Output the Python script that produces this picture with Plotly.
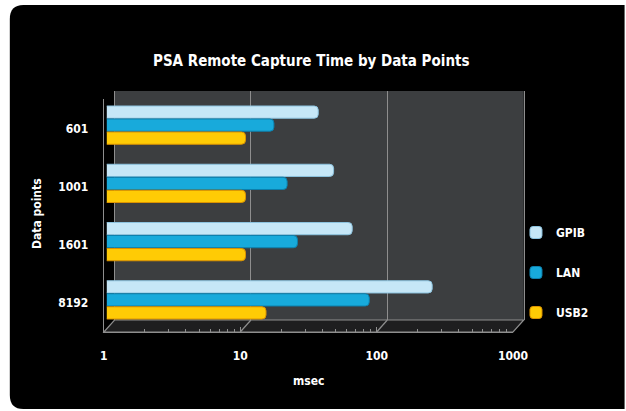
import plotly.graph_objects as go

# ---- data -------------------------------------------------------------
points = ["601", "1001", "1601", "8192"]
gpib = [35.5, 46, 63, 243]
lan = [16.8, 21, 25, 84]
usb2 = [10.4, 10.4, 10.4, 14.7]
x_ticks = [1, 10, 100, 1000]
x_tick_text = ["1", "10", "100", "1000"]
series_names = ["GPIB", "LAN", "USB2"]

# ---- layout geometry (pixels) -------------------------------------------
W, H = 626, 411
BACK_X, BACK_Y = (114, 536), (91, 320)      # back wall
BAR_X, BAR_Y = (106, 528), (96, 329)        # plane of the bars
FRONT_X, FRONT_Y = (103, 525), (99.3, 332)  # front edge with labels

FONT = "Liberation Sans Narrow, DejaVu Sans Condensed, Roboto Condensed, Arial Narrow, Liberation Sans, sans-serif"
GRID = "#8e8e8e"


def px(x):
    return x / W


def py(y):
    return 1 - y / H


def dom_x(a):
    return [px(a[0]), px(a[1])]


def dom_y(a):
    return [py(a[1]), py(a[0])]


fig = go.Figure()

# empty traces so the back-wall and front-edge axis pairs are rendered
for xa, ya in (("x", "y"), ("x3", "y3")):
    fig.add_trace(go.Scatter(x=[None], y=[None], xaxis=xa, yaxis=ya,
                             mode="markers", showlegend=False, hoverinfo="skip"))

fills = {"GPIB": ("#c6e7f7", "#8cc3df"),
         "LAN": ("#18aadb", "#0d80ad"),
         "USB2": ("#ffcb05", "#dc9300")}
for name, vals in zip(series_names, [gpib, lan, usb2]):
    fill, edge = fills[name]
    fig.add_trace(go.Bar(
        x=vals, y=points, orientation="h", name=name,
        xaxis="x2", yaxis="y2", legendgroup=name,
        marker=dict(color=fill, line=dict(color=edge, width=1), cornerradius=4),
    ))

# ---- 3D box decoration: black panel, back wall, floor ------------------
shapes = []
r = 14
x0, y0, x1, y1 = 6, 5, 640, 409
panel = (f"M {px(x0 + r)} {py(y0)} L {px(x1)} {py(y0)} L {px(x1)} {py(y1)} "
         f"L {px(x0 + r)} {py(y1)} Q {px(x0)} {py(y1)} {px(x0)} {py(y1 - r)} "
         f"L {px(x0)} {py(y0 + r)} Q {px(x0)} {py(y0)} {px(x0 + r)} {py(y0)} Z")
shapes.append(dict(type="path", path=panel, xref="paper", yref="paper",
                   fillcolor="#000000", line=dict(width=0), layer="below"))
shapes.append(dict(type="rect", xref="paper", yref="paper",
                   x0=px(BACK_X[0]), x1=px(BACK_X[1]), y0=py(BACK_Y[1]), y1=py(BACK_Y[0]),
                   fillcolor="#3c3e40", line=dict(width=0), layer="below"))
floor = (f"M {px(FRONT_X[0])} {py(FRONT_Y[1])} L {px(FRONT_X[1])} {py(FRONT_Y[1])} "
         f"L {px(BACK_X[1])} {py(BACK_Y[1])} L {px(BACK_X[0])} {py(BACK_Y[1])} Z")
shapes.append(dict(type="path", path=floor, xref="paper", yref="paper",
                   fillcolor="#1e1e1f", line=dict(color=GRID, width=1.2), layer="below"))
# floor diagonals joining each decade on the front edge to the back wall
dec_front = (FRONT_X[1] - FRONT_X[0]) / 3
dec_back = (BACK_X[1] - BACK_X[0]) / 3
for k in range(1, 3):
    shapes.append(dict(type="line", xref="paper", yref="paper",
                       x0=px(FRONT_X[0] + k * dec_front), y0=py(FRONT_Y[1]),
                       x1=px(BACK_X[0] + k * dec_back), y1=py(BACK_Y[1]),
                       line=dict(color=GRID, width=1.2), layer="below"))

tick_font = dict(family=FONT, size=12, color="white", weight="bold")
label_font = dict(family=FONT, size=12, color="white", weight="bold")
minor_vals = [m * d for d in (1, 10, 100) for m in range(2, 10)]

fig.update_layout(
    width=W, height=H,
    margin=dict(l=0, r=0, t=0, b=0),
    paper_bgcolor="white", plot_bgcolor="rgba(0,0,0,0)",
    shapes=shapes,
    barmode="group", bargap=0.33, bargroupgap=0.06,
    showlegend=True,
    legend=dict(x=px(528), xanchor="left", y=py(218), yanchor="top",
                font=label_font, bgcolor="rgba(0,0,0,0)",
                tracegroupgap=21, traceorder="grouped"),
    # back wall with decade gridlines
    xaxis=dict(domain=dom_x(BACK_X), type="log", range=[0, 3], anchor="y",
               tickvals=[10, 100], showticklabels=False, ticks="",
               showgrid=True, gridcolor=GRID, gridwidth=1.3,
               showline=False, zeroline=False, fixedrange=True),
    yaxis=dict(domain=dom_y(BACK_Y), range=[0, 1], anchor="x",
               showgrid=False, showticklabels=False, ticks="", zeroline=False,
               showline=True, mirror=True, linecolor=GRID, linewidth=1.3),
    # bars
    xaxis2=dict(domain=dom_x(BAR_X), type="log", range=[0, 3], anchor="y2",
                showgrid=False, showticklabels=False, ticks="", zeroline=False,
                showline=False),
    yaxis2=dict(domain=dom_y(BAR_Y), type="category", categoryarray=points,
                range=[3.5, -0.5], anchor="x2", showgrid=False,
                showticklabels=False, ticks="", zeroline=False, showline=False),
    # front edge: tick labels and category labels
    xaxis3=dict(domain=dom_x(FRONT_X), type="log", range=[0, 3], anchor="y3",
                tickvals=x_ticks, ticktext=x_tick_text, tickfont=tick_font,
                ticks="inside", ticklen=5, tickcolor=GRID, tickwidth=1.2,
                ticklabelstandoff=12,
                minor=dict(tickvals=minor_vals, ticks="inside", ticklen=3,
                           tickcolor=GRID, tickwidth=1, showgrid=False),
                showgrid=False, zeroline=False,
                showline=True, linecolor=GRID, linewidth=1.3),
    yaxis3=dict(domain=dom_y(FRONT_Y), range=[3.5, -0.5], anchor="x3",
                tickvals=[0, 1, 2, 3], ticktext=points, tickfont=tick_font,
                ticks="", ticklabelstandoff=12, showgrid=False, zeroline=False,
                showline=True, linecolor=GRID, linewidth=1.3),
    annotations=[
        dict(text="PSA Remote Capture Time by Data Points", x=px(317), y=py(61),
             xref="paper", yref="paper", showarrow=False,
             xanchor="center", yanchor="middle",
             font=dict(family=FONT, size=15, color="white", weight="bold")),
        dict(text="msec", x=px(314), y=py(381), xref="paper", yref="paper",
             showarrow=False, xanchor="center", yanchor="middle", font=label_font),
        dict(text="Data points", x=px(34), y=py(213), xref="paper", yref="paper",
             showarrow=False, textangle=-90, xanchor="center", yanchor="middle",
             font=label_font),
    ],
)

fig.write_html("out.html")
